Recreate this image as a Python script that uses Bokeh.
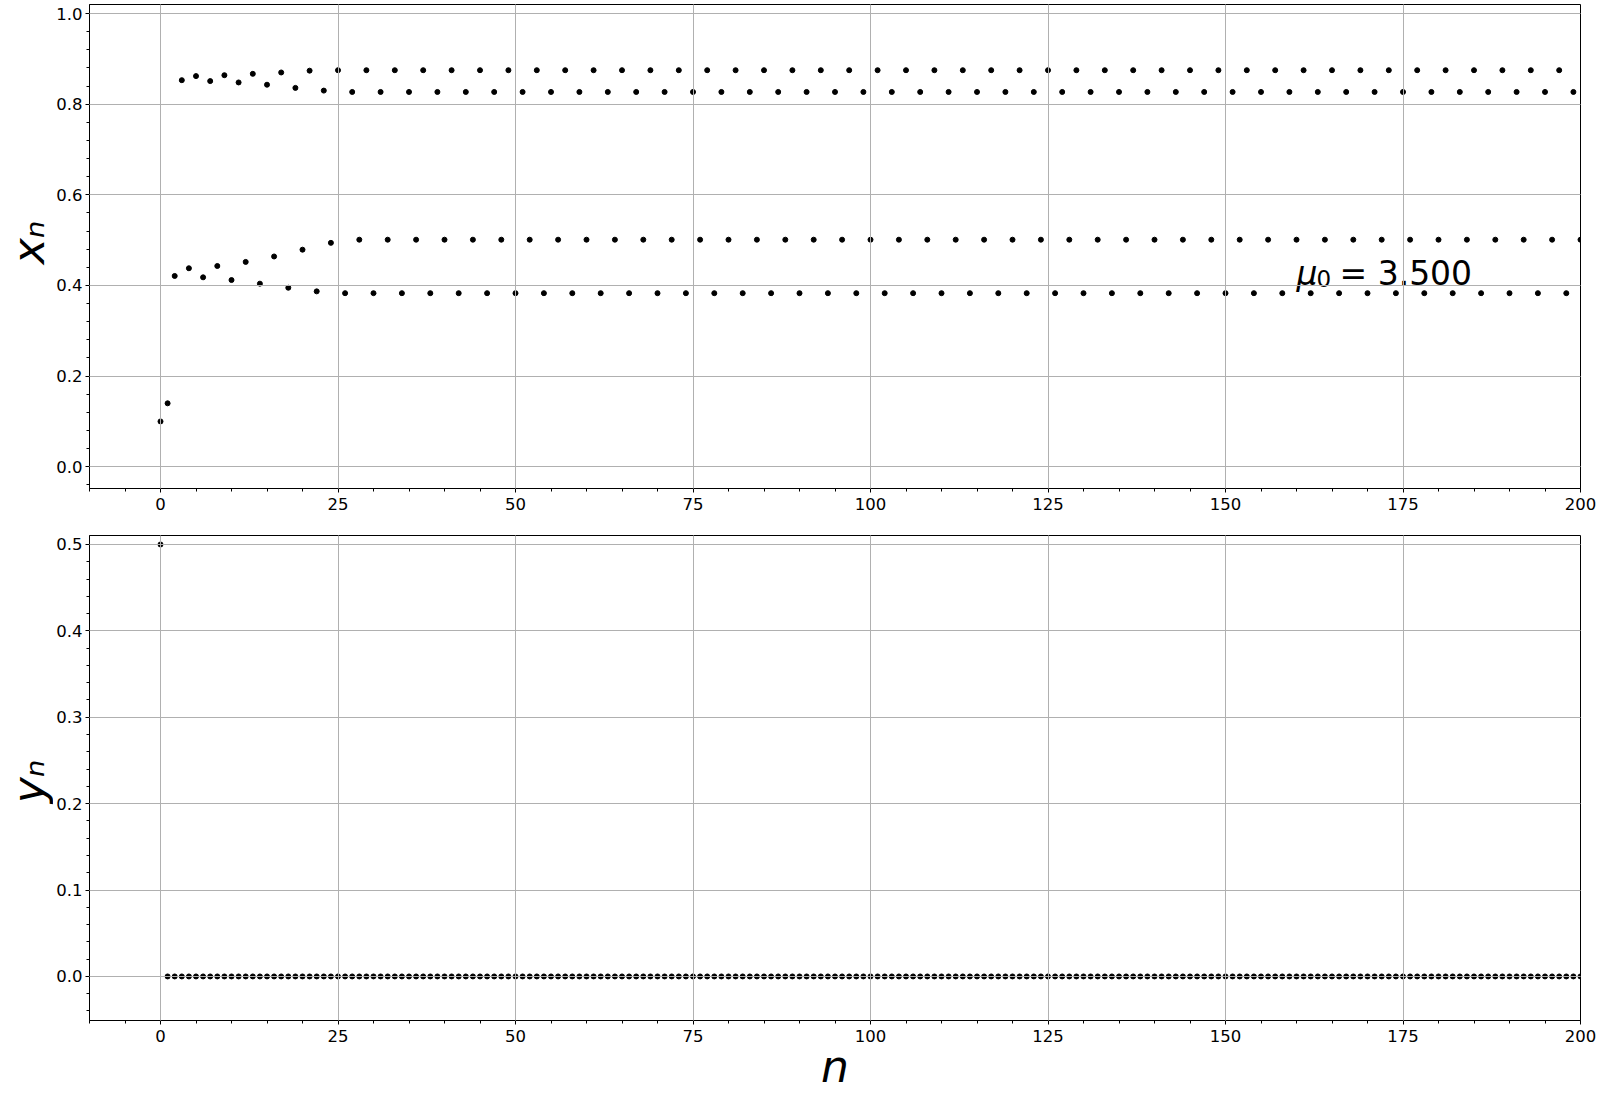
import math
from bokeh.plotting import figure
from bokeh.layouts import column, row
from bokeh.models import (Range1d, SingleIntervalTicker, NumeralTickFormatter,
                          Label, ColumnDataSource)
from bokeh.embed import file_html
from bokeh.resources import INLINE

# ---------------- data ----------------
n_values = list(range(201))

x_values = [
    0.100, 0.140, 0.421, 0.853, 0.438, 0.862, 0.418, 0.851, 0.443, 0.864,
    0.412, 0.848, 0.452, 0.867, 0.404, 0.843, 0.464, 0.870, 0.395, 0.836,
    0.479, 0.874, 0.387, 0.830, 0.494,
    # n = 25 .. 200
    0.875, 0.383, 0.827, 0.501, 0.875, 0.383, 0.827, 0.501, 0.875, 0.383, 0.827, 0.501, 0.875, 0.383, 0.827, 0.501,
    0.875, 0.383, 0.827, 0.501, 0.875, 0.383, 0.827, 0.501, 0.875, 0.383, 0.827, 0.501, 0.875, 0.383, 0.827, 0.501,
    0.875, 0.383, 0.827, 0.501, 0.875, 0.383, 0.827, 0.501, 0.875, 0.383, 0.827, 0.501, 0.875, 0.383, 0.827, 0.501,
    0.875, 0.383, 0.827, 0.501, 0.875, 0.383, 0.827, 0.501, 0.875, 0.383, 0.827, 0.501, 0.875, 0.383, 0.827, 0.501,
    0.875, 0.383, 0.827, 0.501, 0.875, 0.383, 0.827, 0.501, 0.875, 0.383, 0.827, 0.501, 0.875, 0.383, 0.827, 0.501,
    0.875, 0.383, 0.827, 0.501, 0.875, 0.383, 0.827, 0.501, 0.875, 0.383, 0.827, 0.501, 0.875, 0.383, 0.827, 0.501,
    0.875, 0.383, 0.827, 0.501, 0.875, 0.383, 0.827, 0.501, 0.875, 0.383, 0.827, 0.501, 0.875, 0.383, 0.827, 0.501,
    0.875, 0.383, 0.827, 0.501, 0.875, 0.383, 0.827, 0.501, 0.875, 0.383, 0.827, 0.501, 0.875, 0.383, 0.827, 0.501,
    0.875, 0.383, 0.827, 0.501, 0.875, 0.383, 0.827, 0.501, 0.875, 0.383, 0.827, 0.501, 0.875, 0.383, 0.827, 0.501,
    0.875, 0.383, 0.827, 0.501, 0.875, 0.383, 0.827, 0.501, 0.875, 0.383, 0.827, 0.501, 0.875, 0.383, 0.827, 0.501,
    0.875, 0.383, 0.827, 0.501, 0.875, 0.383, 0.827, 0.501, 0.875, 0.383, 0.827, 0.501, 0.875, 0.383, 0.827, 0.501,
]

y_values = [
    0.5,
    0.0, 0.0, 0.0, 0.0, 0.0, 0.0, 0.0, 0.0, 0.0, 0.0, 0.0, 0.0, 0.0, 0.0, 0.0, 0.0, 0.0, 0.0, 0.0, 0.0,
    0.0, 0.0, 0.0, 0.0, 0.0, 0.0, 0.0, 0.0, 0.0, 0.0, 0.0, 0.0, 0.0, 0.0, 0.0, 0.0, 0.0, 0.0, 0.0, 0.0,
    0.0, 0.0, 0.0, 0.0, 0.0, 0.0, 0.0, 0.0, 0.0, 0.0, 0.0, 0.0, 0.0, 0.0, 0.0, 0.0, 0.0, 0.0, 0.0, 0.0,
    0.0, 0.0, 0.0, 0.0, 0.0, 0.0, 0.0, 0.0, 0.0, 0.0, 0.0, 0.0, 0.0, 0.0, 0.0, 0.0, 0.0, 0.0, 0.0, 0.0,
    0.0, 0.0, 0.0, 0.0, 0.0, 0.0, 0.0, 0.0, 0.0, 0.0, 0.0, 0.0, 0.0, 0.0, 0.0, 0.0, 0.0, 0.0, 0.0, 0.0,
    0.0, 0.0, 0.0, 0.0, 0.0, 0.0, 0.0, 0.0, 0.0, 0.0, 0.0, 0.0, 0.0, 0.0, 0.0, 0.0, 0.0, 0.0, 0.0, 0.0,
    0.0, 0.0, 0.0, 0.0, 0.0, 0.0, 0.0, 0.0, 0.0, 0.0, 0.0, 0.0, 0.0, 0.0, 0.0, 0.0, 0.0, 0.0, 0.0, 0.0,
    0.0, 0.0, 0.0, 0.0, 0.0, 0.0, 0.0, 0.0, 0.0, 0.0, 0.0, 0.0, 0.0, 0.0, 0.0, 0.0, 0.0, 0.0, 0.0, 0.0,
    0.0, 0.0, 0.0, 0.0, 0.0, 0.0, 0.0, 0.0, 0.0, 0.0, 0.0, 0.0, 0.0, 0.0, 0.0, 0.0, 0.0, 0.0, 0.0, 0.0,
    0.0, 0.0, 0.0, 0.0, 0.0, 0.0, 0.0, 0.0, 0.0, 0.0, 0.0, 0.0, 0.0, 0.0, 0.0, 0.0, 0.0, 0.0, 0.0, 0.0,
]

mu0_value = "= 3.500"

assert len(x_values) == len(n_values) == len(y_values)

src = ColumnDataSource(data=dict(n=n_values, x=x_values, y=y_values))

FONT = "DejaVu Sans"
LABW = 53          # width of the strip that carries the y-axis titles
W = 1600 - LABW
BL, BR = 36, 20


def make_fig(height, ymin, ymax, yint, btop, bbottom):
    p = figure(width=W, height=height,
               x_range=Range1d(-10, 200), y_range=Range1d(ymin, ymax),
               output_backend="svg", toolbar_location=None,
               min_border_left=BL, min_border_right=BR,
               min_border_top=btop, min_border_bottom=bbottom)
    p.background_fill_color = "white"
    p.border_fill_color = "white"
    p.outline_line_color = "black"
    p.outline_line_width = 1
    p.outline_line_alpha = 1.0

    p.xaxis.ticker = SingleIntervalTicker(interval=25, num_minor_ticks=5)
    p.yaxis.ticker = SingleIntervalTicker(interval=yint, num_minor_ticks=5)
    p.xaxis.formatter = NumeralTickFormatter(format="0")
    p.yaxis.formatter = NumeralTickFormatter(format="0.0")
    for ax in (p.xaxis[0], p.yaxis[0]):
        ax.major_label_text_font = FONT
        ax.major_label_text_font_size = "16.5px"
        ax.major_label_text_color = "black"
        ax.major_tick_out = 4
        ax.major_tick_in = 0
        ax.minor_tick_out = 3
        ax.minor_tick_in = 0
        ax.axis_line_color = "black"
        ax.major_tick_line_color = "black"
        ax.minor_tick_line_color = "black"
        ax.axis_label_text_font = FONT
        ax.axis_label_text_font_style = "italic"
        ax.axis_label_text_font_size = "44px"
        ax.axis_label_text_color = "black"
    p.xaxis.major_label_standoff = 5
    p.yaxis.major_label_standoff = 3
    for g in (p.xgrid[0], p.ygrid[0]):
        g.grid_line_color = "#b0b0b0"
        g.grid_line_width = 1
        g.level = "overlay"
    return p


def title_strip(height, text, y_from_frame_bottom):
    s = figure(width=LABW, height=height, output_backend="svg",
               toolbar_location=None, x_axis_location=None,
               y_axis_location=None, min_border=0,
               x_range=Range1d(0, 1), y_range=Range1d(0, 1))
    s.outline_line_color = None
    s.background_fill_color = "white"
    s.border_fill_color = "white"
    s.xgrid.visible = False
    s.ygrid.visible = False
    s.add_layout(Label(x=27.5, y=y_from_frame_bottom, x_units="screen",
                       y_units="screen", text=text, angle=math.pi / 2,
                       text_align="center", text_baseline="alphabetic",
                       text_font=FONT, text_font_style="italic",
                       text_font_size="44px", text_color="black"))
    return s


# ---------------- top: x_n ----------------
H1 = 4 + 484 + 30
p1 = make_fig(H1, -0.048, 1.02, 0.2, 4, 30)
p1.scatter(x="n", y="x", source=src, size=5, color="black", marker="circle")

LY = 12  # lift so that the baseline sits on y = 0.4
p1.add_layout(Label(x=160, y=0.4, y_offset=LY, text="μ", text_font=FONT,
                    text_font_style="italic", text_font_size="33px",
                    text_baseline="alphabetic", text_align="left",
                    text_color="black"))
p1.add_layout(Label(x=160, y=0.4, x_offset=20, y_offset=LY - 5, text="0",
                    text_font=FONT, text_font_size="23px",
                    text_baseline="alphabetic", text_align="left",
                    text_color="black"))
p1.add_layout(Label(x=160, y=0.4, x_offset=43, y_offset=LY, text=mu0_value,
                    text_font=FONT, text_font_size="33px",
                    text_baseline="alphabetic", text_align="left",
                    text_color="black"))
s1 = title_strip(H1, "xₙ", 246)

# ---------------- bottom: y_n ----------------
H2 = 17 + 485 + 78
p2 = make_fig(H2, -0.051, 0.5104, 0.1, 17, 78)
p2.scatter(x="n", y="y", source=src, size=5, color="black", marker="circle")
p2.xaxis.axis_label = "n"
p2.xaxis.axis_label_standoff = -4
s2 = title_strip(H2, "yₙ", 239)

layout = column(row(s1, p1), row(s2, p2))

with open("out.html", "w") as f:
    f.write(file_html(layout, INLINE))
